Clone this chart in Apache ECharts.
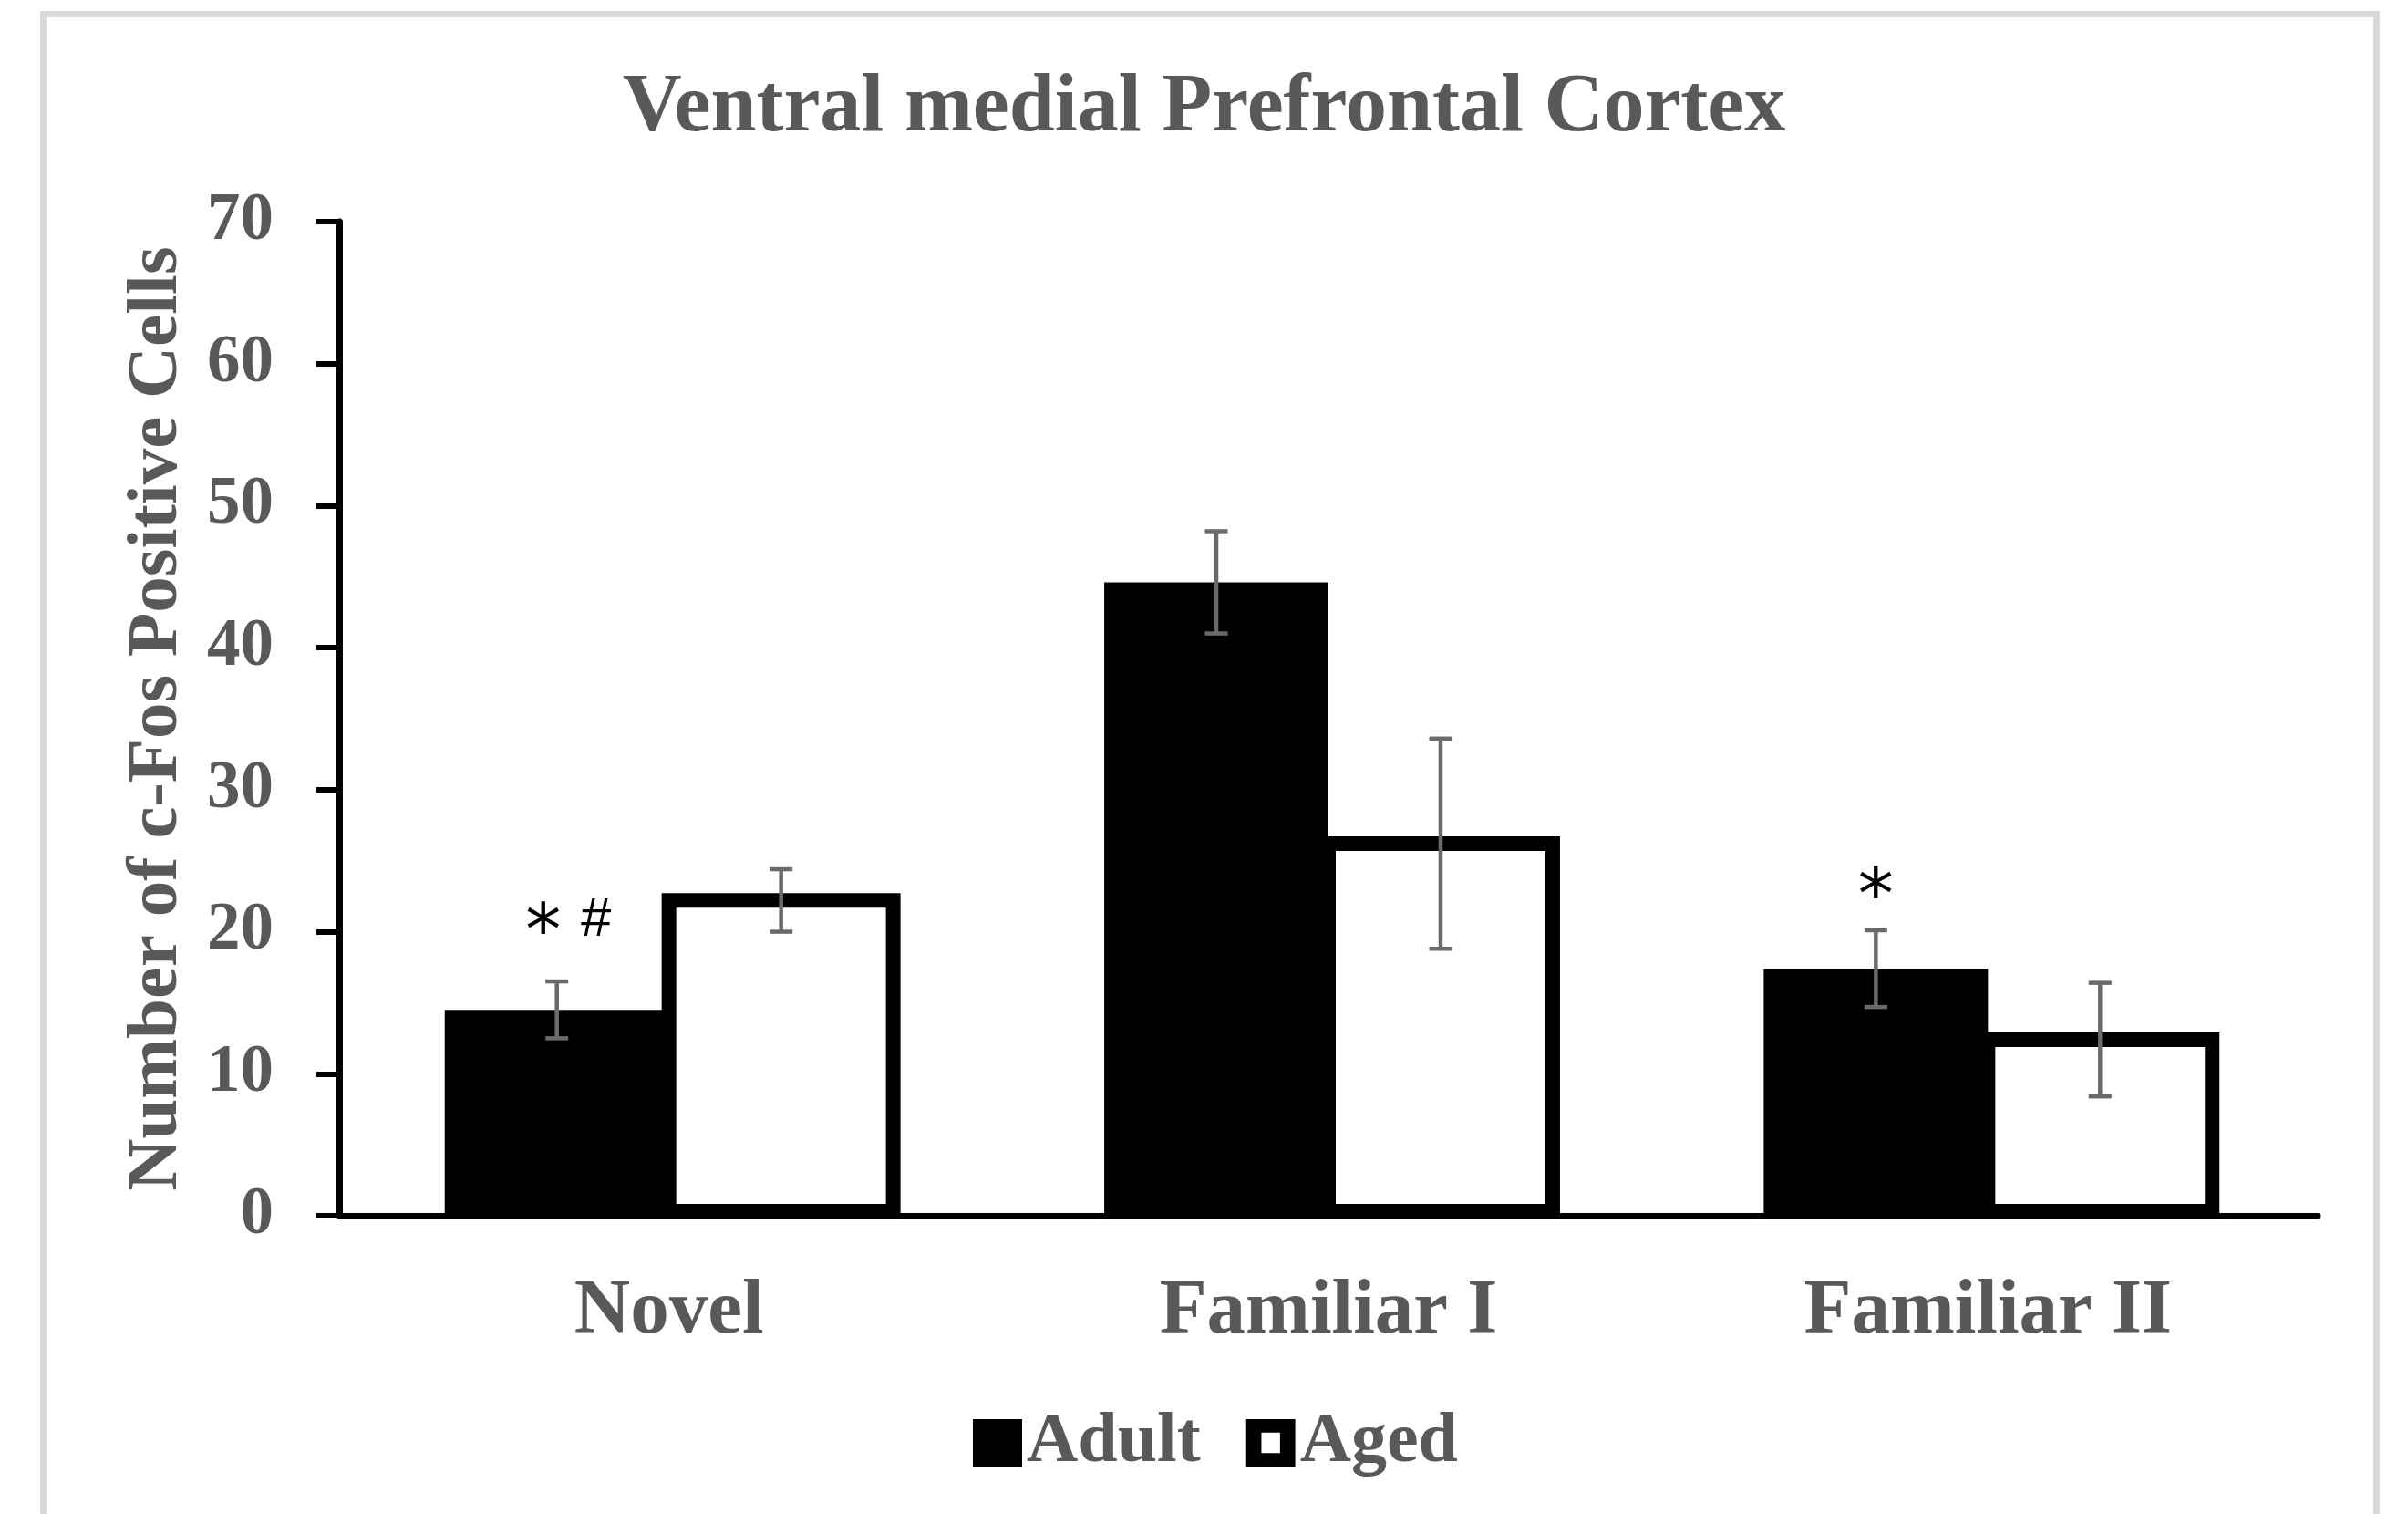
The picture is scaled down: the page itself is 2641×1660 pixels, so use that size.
<!DOCTYPE html>
<html>
<head>
<meta charset="utf-8">
<script src="https://cdn.jsdelivr.net/npm/echarts@6/dist/echarts.min.js"></script>
<style>
html,body{margin:0;padding:0;background:#fff;}
#chart{width:2641px;height:1660px;}
</style>
</head>
<body>
<div id="chart"></div>
<script>
// ---- data ----
const categories = ['Novel', 'Familiar I', 'Familiar II'];
const seriesNames = ['Adult', 'Aged'];
const adultValues = [14.5, 44.6, 17.4];
const adultErrors = [2.0, 3.6, 2.7];
const agedValues = [22.2, 26.2, 12.4];
const agedErrors = [2.2, 7.4, 4.0];
const annotationMarks = [['*', '#'], [], ['*']];   // significance marks above Adult bars
const annotationY = [20.8, null, 23.3];             // value-axis height of the marks
const yTicks = [0, 10, 20, 30, 40, 50, 60, 70];

const serif = "'Liberation Serif','Times New Roman',serif";
const grey = '#595959';
const CAT_GAP = 0.32;
const OUTLINE = 16;

const chart = echarts.init(document.getElementById('chart'), null, {renderer: 'canvas'});

const adultData = adultValues.map((v, i) => [i, v]);
const agedData = agedValues.map((v, i) => [i, v]);
const errData = [];
adultValues.forEach((v, i) => errData.push([i, v, adultErrors[i], 0]));
agedValues.forEach((v, i) => errData.push([i, v, agedErrors[i], 1]));

const annData = [];
annotationMarks.forEach((m, i) => { if (m.length) annData.push([i, annotationY[i], m.join('|')]); });

function barWidth(api) {
  return api.size([1, 0])[0] * (1 - CAT_GAP) / 2;
}
function barCenterX(api, ci, s) {
  const bw = barWidth(api);
  return api.coord([ci, 0])[0] + (s === 0 ? -bw / 2 : bw / 2);
}

function makeBarRenderer(s, style, baseInset) {
  return function (params, api) {
    const ci = api.value(0), v = api.value(1);
    const bw = barWidth(api);
    const xc = api.coord([ci, 0])[0];
    const yTop = api.coord([ci, v])[1];
    const yBase = api.coord([ci, 0])[1] - baseInset;
    return {
      type: 'rect',
      shape: {x: s === 0 ? xc - bw : xc, y: yTop, width: bw, height: yBase - yTop},
      style: style
    };
  };
}

function renderErr(params, api) {
  const ci = api.value(0), v = api.value(1), e = api.value(2), s = api.value(3);
  const cx = barCenterX(api, ci, s);
  const top = api.coord([ci, v + e])[1];
  const bot = api.coord([ci, v - e])[1];
  const cap = 12.5;
  const st = {stroke: '#6a6a6a', lineWidth: 4.5};
  return {type: 'group', children: [
    {type: 'line', shape: {x1: cx, y1: top, x2: cx, y2: bot}, style: st},
    {type: 'line', shape: {x1: cx - cap, y1: top, x2: cx + cap, y2: top}, style: st},
    {type: 'line', shape: {x1: cx - cap, y1: bot, x2: cx + cap, y2: bot}, style: st}
  ]};
}

function renderAnn(params, api) {
  const ci = api.value(0), y = api.value(1);
  const marks = String(annData[params.dataIndex][2]).split('|');
  const cx = barCenterX(api, ci, 0);
  const cy = api.coord([ci, y])[1];
  const step = 58;
  const n = marks.length;
  const start = cx - (n - 1) * step / 2 + (n - 1) * 14;
  const children = marks.map((m, k) => {
    const isStar = m === '*';
    return {
      type: 'text',
      x: start + k * step,
      y: cy + (isStar ? 17 : 0),
      style: {
        text: m,
        fill: '#000',
        font: isStar ? "78px 'DejaVu Sans',sans-serif" : "60px 'Liberation Sans',Arial,sans-serif",
        align: 'center',
        verticalAlign: 'middle'
      }
    };
  });
  return {type: 'group', children};
}

const option = {
  backgroundColor: '#fff',
  animation: false,
  title: {
    text: 'Ventral medial Prefrontal Cortex',
    left: 'center',
    top: 70,
    textStyle: {fontFamily: serif, fontWeight: 'bold', fontSize: 90, color: grey}
  },
  legend: {
    left: 1062,
    top: 1538,
    itemWidth: 54,
    itemHeight: 52,
    itemGap: 50,
    textStyle: {fontFamily: serif, fontWeight: 'bold', fontSize: 78, color: grey},
    data: [
      {name: 'Adult', icon: 'rect', itemStyle: {color: '#000', borderWidth: 0}},
      {name: 'Aged', icon: 'path://M0,0H58V56H0Z M18,16V40H40V16Z', itemStyle: {color: '#000', borderWidth: 0}}
    ]
  },
  grid: {left: 372, right: 99, top: 243, bottom: 327, containLabel: false, outerBoundsMode: 'none'},
  xAxis: {
    type: 'category',
    data: categories,
    axisLine: {lineStyle: {color: '#000', width: 7}},
    axisTick: {show: false},
    axisLabel: {fontFamily: serif, fontWeight: 'bold', fontSize: 85, color: grey, margin: 64},
    splitLine: {show: false}
  },
  yAxis: {
    type: 'value',
    min: yTicks[0],
    max: yTicks[yTicks.length - 1],
    interval: yTicks[1] - yTicks[0],
    name: 'Number of c-Fos Positive Cells',
    nameLocation: 'middle',
    nameGap: 160,
    nameTextStyle: {fontFamily: serif, fontWeight: 'bold', fontSize: 79, color: grey},
    axisLine: {show: true, lineStyle: {color: '#000', width: 7}},
    axisTick: {show: true, length: 25, lineStyle: {color: '#000', width: 6}},
    axisLabel: {fontFamily: serif, fontWeight: 'bold', fontSize: 73, color: grey, margin: 72},
    splitLine: {show: false}
  },
  series: [
    {
      name: seriesNames[0], type: 'custom', data: adultData,
      renderItem: makeBarRenderer(0, {fill: '#000'}, 0),
      itemStyle: {color: '#000'}, z: 2
    },
    {
      name: seriesNames[1], type: 'custom', data: agedData,
      renderItem: makeBarRenderer(1, {fill: '#fff', stroke: '#000', lineWidth: OUTLINE, lineJoin: 'miter'}, 5),
      itemStyle: {color: '#fff', borderColor: '#000'}, z: 3
    },
    {
      name: 'err', type: 'custom', data: errData, renderItem: renderErr, z: 5, silent: true
    },
    {
      name: 'ann', type: 'custom', data: annData, renderItem: renderAnn, z: 5, silent: true
    }
  ],
  graphic: [
    {type: 'rect', left: 44, top: 12, shape: {width: 2559, height: 1700}, style: {fill: 'none', stroke: '#d9d9d9', lineWidth: 7}, silent: true, z: -1}
  ]
};
chart.setOption(option);
</script>
</body>
</html>
